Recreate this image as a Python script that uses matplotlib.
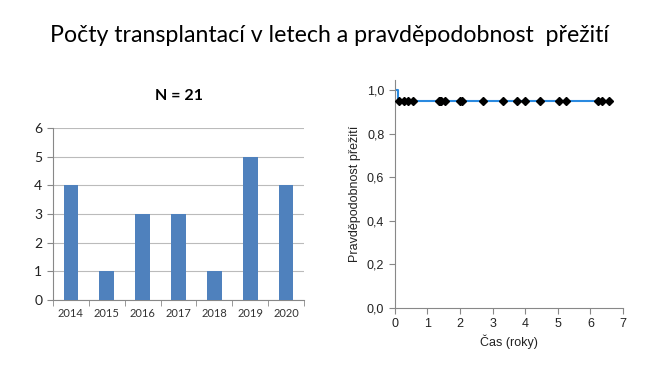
import matplotlib.pyplot as plt
import numpy as np

# left chart: transplants per year
years = ["2014", "2015", "2016", "2017", "2018", "2019", "2020"]
counts = [4, 1, 3, 3, 1, 5, 4]

# right chart: Kaplan-Meier survival
km_time = [0.0, 0.1, 6.57]
km_surv = [1.0, 20 / 21, 20 / 21]
censor_t = [0.13, 0.28, 0.42, 0.56, 1.36, 1.40, 1.43, 1.53, 1.99, 2.06,
            2.71, 3.33, 3.76, 3.99, 4.46, 5.04, 5.26, 6.23, 6.36, 6.57]
censor_s = [20 / 21] * len(censor_t)

fig = plt.figure(figsize=(6.6, 3.71), dpi=100)
fig.text(0.5, 0.905, "Počty transplantací v letech a pravděpodobnost  přežití",
         ha="center", va="center", fontsize=16.7, family="Lato")

gray = "#888888"

# bar chart
ax1 = fig.add_axes([0.080, 0.191, 0.381, 0.464])
x = np.arange(len(years))
ax1.bar(x, counts, width=0.4, color="#4f81bd", zorder=3)
ax1.set_xlim(-0.5, len(years) - 0.5)
ax1.set_ylim(0, 6)
ax1.set_yticks(range(7))
ax1.set_xticks(x)
ax1.set_xticklabels(years, fontsize=8, family="Lato", color="#333333")
ax1.set_xticks(np.arange(-0.5, len(years)), minor=True)
ax1.tick_params(axis="x", which="major", length=0, pad=6)
ax1.tick_params(axis="x", which="minor", length=4, color=gray)
ax1.tick_params(axis="y", length=4, color=gray, labelsize=10, labelcolor="#222222")
for lab in ax1.get_yticklabels():
    lab.set_family("Lato")
ax1.grid(axis="y", color="#bbbbbb", linewidth=0.8, zorder=0)
for s in ["top", "right"]:
    ax1.spines[s].set_visible(False)
ax1.spines["left"].set_color(gray)
ax1.spines["bottom"].set_color(gray)
ax1.set_title("N = 21", fontsize=11.5, fontweight="bold", family="Lato", pad=20)

# survival curve
ax2 = fig.add_axes([0.598, 0.170, 0.346, 0.614])
ax2.step(km_time, km_surv, where="post", color="#2a8ae0", linewidth=1.5, zorder=2)
ax2.plot(censor_t, censor_s, linestyle="none", marker="D", markersize=4,
         color="black", zorder=3)
ax2.set_xlim(0, 7)
ax2.set_ylim(0, 1.046)
ax2.set_xticks(range(8))
ax2.set_yticks([0, 0.2, 0.4, 0.6, 0.8, 1.0])
ax2.set_yticklabels(["0,0", "0,2", "0,4", "0,6", "0,8", "1,0"])
for s in ["top", "right"]:
    ax2.spines[s].set_visible(False)
ax2.spines["left"].set_color(gray)
ax2.spines["bottom"].set_color(gray)
ax2.tick_params(length=4, color=gray, labelsize=9, labelcolor="#222222")
for lab in ax2.get_xticklabels() + ax2.get_yticklabels():
    lab.set_family("Liberation Sans")
ax2.set_xlabel("Čas (roky)", fontsize=9, family="Liberation Sans", color="#222222", labelpad=3)
ax2.set_ylabel("Pravděpodobnost přežití", fontsize=9, family="Liberation Sans",
               color="#222222", labelpad=4)

fig.savefig("out.png", dpi=100)
